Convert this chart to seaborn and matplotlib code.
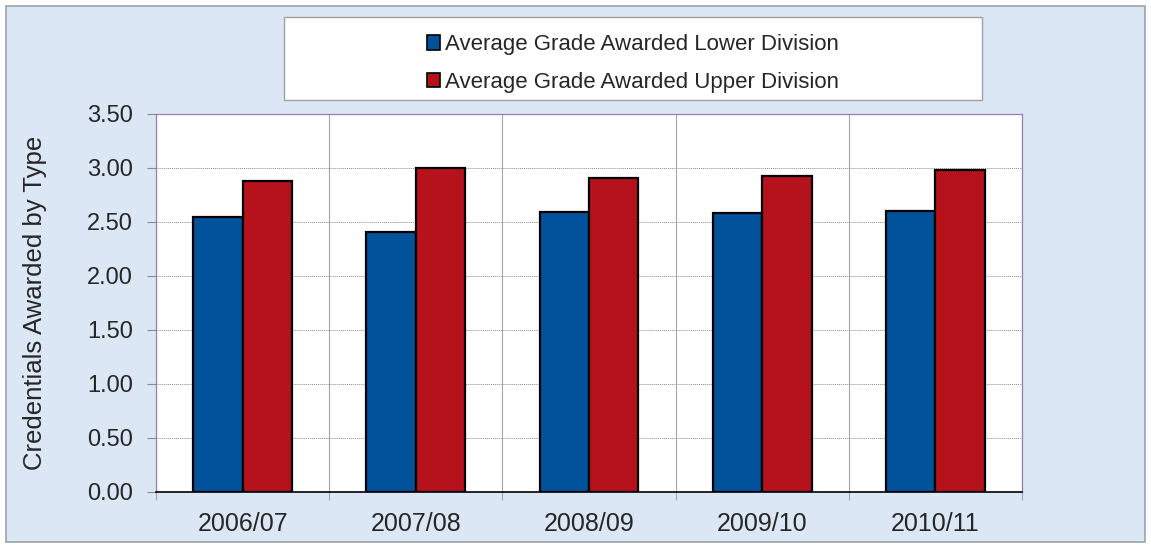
import pandas as pd
import matplotlib.pyplot as plt
import seaborn as sns
from matplotlib.patches import Rectangle, Patch

# Values
years = ["2006/07", "2007/08", "2008/09", "2009/10", "2010/11"]
lower_division = [2.55, 2.41, 2.59, 2.58, 2.60]
upper_division = [2.88, 3.00, 2.91, 2.93, 2.98]
series_names = ["Average Grade Awarded Lower Division", "Average Grade Awarded Upper Division"]
series_colors = ["#00529b", "#b5121b"]

df = pd.DataFrame({
    "Year": years * 2,
    "Grade": lower_division + upper_division,
    "Series": [series_names[0]] * len(years) + [series_names[1]] * len(years),
})

sns.set_style("white")
plt.rcParams['font.family'] = ['Liberation Sans', 'DejaVu Sans']

fig = plt.figure(figsize=(11.51, 5.48), dpi=100, facecolor="white")
W, H = 1151, 548

# light blue panel behind everything
fig.patches.append(Rectangle((6 / W, 6 / H), 1 - 12 / W, 1 - 12 / H, transform=fig.transFigure,
                             facecolor="#dbe7f4", edgecolor="#9aa3ad", linewidth=1.2, zorder=-10))

ax = fig.add_axes([156 / W, 1 - 492 / H, (1022 - 156) / W, (492 - 114) / H])
ax.set_facecolor("white")

sns.barplot(data=df, x="Year", y="Grade", hue="Series", palette=series_colors, saturation=1,
            width=0.57, gap=0, edgecolor="black", linewidth=1.6, ax=ax, legend=False, zorder=3)

ax.set_xlim(-0.5, len(years) - 0.5)
ax.set_ylim(0, 3.5)
ax.set_yticks([0, 0.5, 1.0, 1.5, 2.0, 2.5, 3.0, 3.5])
ax.set_yticklabels([f"{v:.2f}" for v in ax.get_yticks()])
ax.set_xlabel("")
ax.set_ylabel("Credentials Awarded by Type", fontsize=18.5, labelpad=29)

# horizontal gridlines + vertical lines between categories
ax.grid(axis="y", color="#8c8c8c", linestyle=(0, (1, 1)), linewidth=0.7, zorder=0)
ax.set_xticks([i - 0.5 for i in range(len(years) + 1)], minor=True)
ax.grid(axis="x", which="minor", color="#a6a6a6", linewidth=0.8, zorder=0)
ax.grid(axis="x", which="major", visible=False)

ax.tick_params(axis="y", which="major", left=True, length=6.5, width=0.8, color="#8c8c8c",
               labelsize=17, pad=10)
ax.tick_params(axis="x", which="major", bottom=False, labelsize=18, pad=11)
ax.tick_params(axis="x", which="minor", bottom=True, length=6, width=0.8, color="#a6a6a6")

for side in ["top", "right", "left"]:
    ax.spines[side].set_color("#9a7cb0")
    ax.spines[side].set_linewidth(0.9)
ax.spines["bottom"].set_color("black")
ax.spines["bottom"].set_linewidth(1.2)

# legend box
fig.patches.append(Rectangle((284 / W, 1 - 100 / H), (982 - 284) / W, (100 - 17) / H,
                             transform=fig.transFigure, facecolor="white",
                             edgecolor="#a0a0a0", linewidth=1.0, zorder=1))
handles = [Patch(facecolor=c, edgecolor="black", linewidth=1.2) for c in series_colors]
fig.legend(handles, series_names, loc="center", bbox_to_anchor=(633 / W, 1 - 63.5 / H),
           frameon=False, fontsize=16, handlelength=0.6, handleheight=0.6,
           handletextpad=0.2, labelspacing=0.74)

fig.savefig("out.png", dpi=100, facecolor=fig.get_facecolor())
